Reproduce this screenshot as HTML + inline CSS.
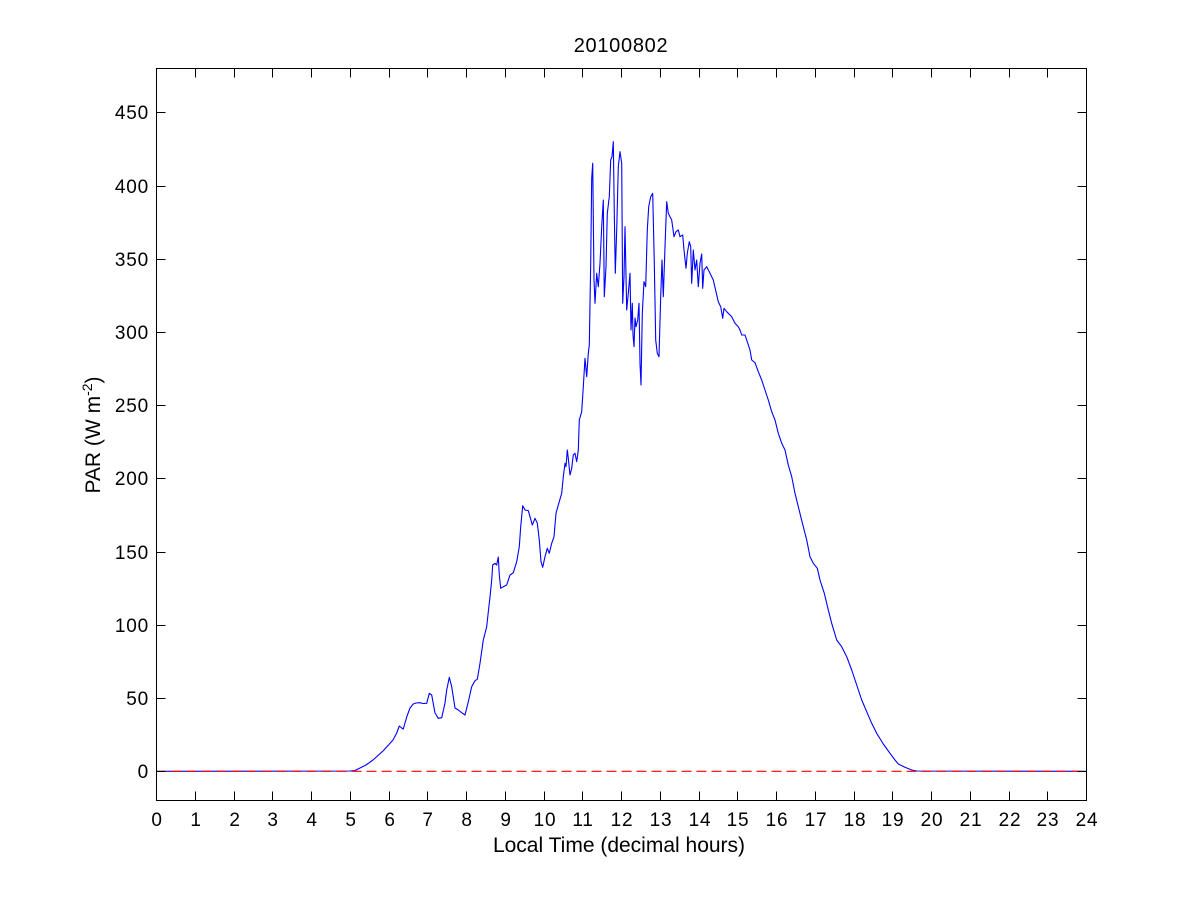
<!DOCTYPE html>
<html>
<head>
<meta charset="utf-8">
<style>
html,body{margin:0;padding:0;background:#fff;}
svg{display:block;}
text{font-family:"Liberation Sans",Arial,sans-serif;fill:#000;}
</style>
</head>
<body>
<svg width="1201" height="900" viewBox="0 0 1201 900" xmlns="http://www.w3.org/2000/svg">
<rect x="0" y="0" width="1201" height="900" fill="#fff"/>

<!-- data line -->
<polyline fill="none" stroke="#0000ff" stroke-width="1.1" stroke-linejoin="round" points="
156.5,771.3 350,771 355,770.5 360,768 366,765 373,760 383,751 393,740 396.7,733 399.3,726 401.7,728 403.3,729
406.7,717 410,708 413.3,704 416,703 420,702.7 422.7,703.5 426.7,703.3 429.3,693.3 431.7,695 435,713 438.3,718.3
441.7,717.7 445,703 446.7,690 449.3,677.3 451.7,686.7 455,708 458.3,710 461.7,712.7 465,715 468.3,701.7 471.7,686.7
475,680.7 477.3,679.3 480,663.3 483.3,640 486.7,626.7 488.5,610 490,597 491.7,580 492.7,565 495,563.3 496.7,565
498.3,557 499.3,575 500.7,588.3 503.3,586.7 506.7,585 510,575 513.3,572.7 516.7,561.7 519.3,546.7 520.7,526.7
522.7,505.7 525,510 528.3,510.7 530,516.7 532.3,525 535,518.3 537.3,523.3 539.3,540 541,561.7 542.7,567.3 545,556.7
547.3,548.3 549.3,553.3 551.7,543.3 554,536.7 556,513.3 558.3,505 561.7,493.3 563.3,476.7 565,463.3 566,466.7
567.3,450 568.3,458.3 570,475 571.7,468.3 573.3,455 575,453.3 576.7,461.7 578.3,450 579.3,420 581.7,411.7 583.3,386.7
585,358.3 586.7,376.7 588.3,353.3 589.3,345 590.7,263.3 591.7,178.3 592.7,163.3 594,280 595,303.3 596.7,273.3
598.3,286.7 600,263.3 601.7,226.7 603.3,200 604.3,296.7 606,266.7 607.3,213.3 609.3,196.7 610.7,160 612,156.7
613.3,141.7 614.3,213.3 615.3,273.3 616.7,230 618.3,166.7 620,151.7 621.7,163.3 622.7,303.3 624,276.7 625,226.7
626.7,310 628.3,293.3 630,273.3 631,330 632.3,303.3 633,335 634,346.7 635,318 636,326.7 637.7,320 639,303.3
640,363.3 641,385 642.3,313.3 644,281.7 645.7,286.7 647.3,230 648.7,206.7 650.7,196.7 652.7,193.3 654.3,263.3
655.7,340 657.3,353.3 659,356.7 660.7,296.7 662,260 663.3,296.7 665,246.7 666.7,201.7 668.3,213.3 670,216.7
671.7,220 674,236.7 676,231.7 678.3,230 680,236.7 682.7,235 684,250 686,268.3 687.3,253.3 689.3,241.7 690.7,246.7
691.7,283.3 693.3,250 695,270 696.7,260 698.3,286.7 700,263.3 701.7,254 702.7,288.3 704,270 706.7,266.7 710,273.3
713.3,280 716,291.7 718.3,301.7 720.7,306.7 722.7,318.3 724,308.3 726.7,311.7 731.7,316.7 735,323.3 738.3,326.7
740,330 741.7,335 745,335 746.7,340 750,350 751.7,360 755,362.7 758.3,371.7 761.7,380 765,390 768.3,400
771.7,411.7 775,420 778.3,433.3 781.7,443.3 785,450 788.3,465 791.7,476.7 795,493.3 798.3,506.7 803.3,526.7
806.7,540 810,556.7 813.3,563.3 817.3,568.3 820,580 824.3,593.3 828.3,610 831.7,623.3 836.7,640 841.7,646.7
846.7,656.7 851.7,670 856.7,685 861.7,700 866.7,711.7 871.7,723.3 876.7,733.3 883.3,744 890,753.3 895,760
898.3,764 905,767.3 911.7,770 916.7,771 1086.5,771.3"/>

<!-- zero dashed line -->
<line x1="156.5" y1="771.3" x2="1086.5" y2="771.3" stroke="#ff0000" stroke-width="1.1" stroke-dasharray="10,5"/>

<!-- axes box -->
<rect x="156.5" y="68.5" width="930" height="732" fill="none" stroke="#000" stroke-width="1" shape-rendering="crispEdges"/>

<!-- ticks -->
<path fill="none" stroke="#000" stroke-width="1" shape-rendering="crispEdges" d="
M195.5,800.5v-9 M234.5,800.5v-9 M272.5,800.5v-9 M311.5,800.5v-9 M350.5,800.5v-9 M389.5,800.5v-9 M427.5,800.5v-9
M466.5,800.5v-9 M505.5,800.5v-9 M544.5,800.5v-9 M582.5,800.5v-9 M621.5,800.5v-9 M660.5,800.5v-9 M699.5,800.5v-9
M737.5,800.5v-9 M776.5,800.5v-9 M815.5,800.5v-9 M854.5,800.5v-9 M892.5,800.5v-9 M931.5,800.5v-9 M970.5,800.5v-9
M1009.5,800.5v-9 M1047.5,800.5v-9
M195.5,68.5v9 M234.5,68.5v9 M272.5,68.5v9 M311.5,68.5v9 M350.5,68.5v9 M389.5,68.5v9 M427.5,68.5v9
M466.5,68.5v9 M505.5,68.5v9 M544.5,68.5v9 M582.5,68.5v9 M621.5,68.5v9 M660.5,68.5v9 M699.5,68.5v9
M737.5,68.5v9 M776.5,68.5v9 M815.5,68.5v9 M854.5,68.5v9 M892.5,68.5v9 M931.5,68.5v9 M970.5,68.5v9
M1009.5,68.5v9 M1047.5,68.5v9
M156.5,771.5h9 M156.5,698.5h9 M156.5,625.5h9 M156.5,552.5h9 M156.5,478.5h9 M156.5,405.5h9 M156.5,332.5h9
M156.5,259.5h9 M156.5,186.5h9 M156.5,112.5h9
M1086.5,771.5h-9 M1086.5,698.5h-9 M1086.5,625.5h-9 M1086.5,552.5h-9 M1086.5,478.5h-9 M1086.5,405.5h-9 M1086.5,332.5h-9
M1086.5,259.5h-9 M1086.5,186.5h-9 M1086.5,112.5h-9"/>

<!-- y tick labels -->
<g font-size="19" text-anchor="end" letter-spacing="0.8">
<text x="149" y="778">0</text>
<text x="149" y="705">50</text>
<text x="149" y="632">100</text>
<text x="149" y="559">150</text>
<text x="149" y="485">200</text>
<text x="149" y="412">250</text>
<text x="149" y="339">300</text>
<text x="149" y="266">350</text>
<text x="149" y="193">400</text>
<text x="149" y="119">450</text>
</g>

<!-- x tick labels -->
<g font-size="19" text-anchor="middle" letter-spacing="0.8">
<text x="157" y="826">0</text>
<text x="196" y="826">1</text>
<text x="235" y="826">2</text>
<text x="273" y="826">3</text>
<text x="312" y="826">4</text>
<text x="351" y="826">5</text>
<text x="390" y="826">6</text>
<text x="428" y="826">7</text>
<text x="467" y="826">8</text>
<text x="506" y="826">9</text>
<text x="545" y="826">10</text>
<text x="583" y="826">11</text>
<text x="622" y="826">12</text>
<text x="661" y="826">13</text>
<text x="700" y="826">14</text>
<text x="738" y="826">15</text>
<text x="777" y="826">16</text>
<text x="816" y="826">17</text>
<text x="855" y="826">18</text>
<text x="893" y="826">19</text>
<text x="932" y="826">20</text>
<text x="971" y="826">21</text>
<text x="1010" y="826">22</text>
<text x="1048" y="826">23</text>
<text x="1087" y="826">24</text>
</g>

<!-- title -->
<text x="621" y="52" font-size="20" text-anchor="middle" letter-spacing="0.7">20100802</text>

<!-- x label -->
<text x="619" y="852" font-size="21" text-anchor="middle">Local Time (decimal hours)</text>

<!-- y label -->
<text transform="translate(100,435) rotate(-90)" font-size="21" text-anchor="middle">PAR (W m<tspan dy="-8" font-size="14">-2</tspan><tspan dy="8">)</tspan></text>
</svg>
</body>
</html>
